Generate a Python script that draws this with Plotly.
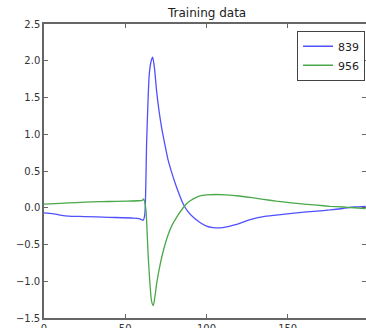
import plotly.graph_objects as go

# Series 839 (blue)
x_839 = [0, 5, 10, 15, 25, 40, 55, 59, 61, 62, 63.2, 64.8, 66, 66.9, 68, 69.3, 70.8, 72.4, 74.5,
         76.5, 79, 81.6, 85.7, 88.5, 91.9, 96, 100, 104, 110, 118, 127, 135, 143, 151, 160,
         168, 176, 184, 191, 198]
y_839 = [-0.07, -0.08, -0.10, -0.115, -0.12, -0.13, -0.14, -0.15, -0.17, -0.10, 0.91, 1.82, 2.0,
         2.05, 1.9, 1.59, 1.32, 1.09, 0.85, 0.64, 0.45, 0.28, 0.05, -0.05, -0.13, -0.2, -0.25,
         -0.27, -0.27, -0.23, -0.16, -0.12, -0.1, -0.08, -0.06, -0.045, -0.03, -0.01, 0.01, 0.02]

# Series 956 (green)
x_956 = [0, 10, 20, 30, 40, 50, 58, 60.5, 61.3, 62, 62.8, 64.2, 66.2, 67.3, 68.2, 69.3, 70.8,
         72.4, 74.5, 76.5, 79, 81.6, 85.7, 88.5, 91.9, 96, 100, 106, 112, 120, 127, 135, 143,
         151, 160, 168, 176, 184, 191, 198]
y_956 = [0.05, 0.06, 0.07, 0.08, 0.085, 0.09, 0.095, 0.10, 0.12, 0.08, -0.04, -0.68, -1.27,
         -1.33, -1.22, -1.04, -0.85, -0.68, -0.5, -0.36, -0.23, -0.13, 0.0, 0.07, 0.12, 0.16,
         0.175, 0.18, 0.175, 0.16, 0.14, 0.115, 0.09, 0.07, 0.05, 0.035, 0.02, 0.01, 0.0, -0.01]

title_text = "Training data"
x_ticks = [0, 50, 100, 150, 200]
y_ticks = [-1.5, -1.0, -0.5, 0.0, 0.5, 1.0, 1.5, 2.0, 2.5]

fig = go.Figure()
fig.add_trace(go.Scatter(x=x_839, y=y_839, mode="lines", name="839",
                         line=dict(color="#5050ff", width=1.3, shape="spline", smoothing=0.6)))
fig.add_trace(go.Scatter(x=x_956, y=y_956, mode="lines", name="956",
                         line=dict(color="#4aa84a", width=1.3, shape="spline", smoothing=0.6)))

axis_common = dict(showgrid=False, zeroline=False, showline=True, linecolor="#666",
                   linewidth=1.5, mirror="ticks", ticks="inside", ticklen=4, tickwidth=1,
                   tickcolor="#666", automargin=False,
                   tickfont=dict(family="DejaVu Sans", size=10, color="#333"))

fig.update_layout(
    width=366, height=328,
    margin=dict(l=44, r=0, t=24, b=10, autoexpand=False),
    paper_bgcolor="white", plot_bgcolor="white",
    xaxis=dict(range=[0, 198.2], tickvals=x_ticks, ticktext=[str(v) for v in x_ticks],
               **axis_common),
    yaxis=dict(range=[-1.5, 2.5], tickvals=y_ticks, tickformat=".1f", **axis_common),
    showlegend=True,
    legend=dict(x=0.997, y=0.977, xanchor="right", yanchor="top",
                bordercolor="#444", borderwidth=1, bgcolor="white",
                font=dict(family="DejaVu Sans", size=11, color="#222"),
                itemwidth=30, tracegroupgap=0),
    annotations=[dict(text=title_text, x=100, y=1, xref="x", yref="paper",
                      xanchor="center", yanchor="bottom", showarrow=False, yshift=2,
                      font=dict(family="DejaVu Sans", size=12, color="#222"))],
)

fig.write_html(
    "out.html",
    config={"displayModeBar": False},
    post_script="document.body.style.margin='0';document.body.style.overflow='hidden';",
)
